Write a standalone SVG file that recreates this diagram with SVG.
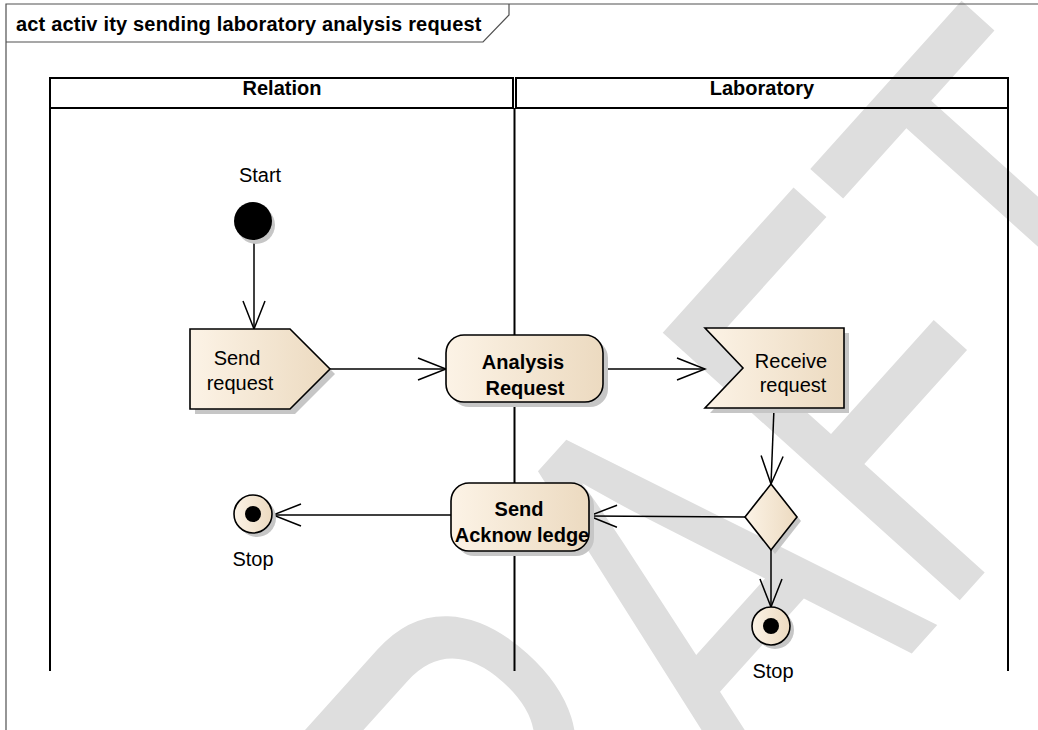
<svg xmlns="http://www.w3.org/2000/svg" width="1038" height="730" viewBox="0 0 1038 730">
<style>
.t{font-family:"Liberation Sans",Arial,sans-serif;font-size:20px;fill:#000}
.b{font-weight:bold}
.m{text-anchor:middle}
.frame{fill:none;stroke:#505050;stroke-width:1.2}
.lane{fill:none;stroke:#000;stroke-width:2}
.node{fill:url(#g);stroke:#000;stroke-width:1.6}
.sh{fill:#c6c6c6}
.edge{fill:none;stroke:#000;stroke-width:1.5;marker-end:url(#arr)}
.wm{font-family:"Liberation Sans",Arial,sans-serif;font-size:100px;fill:#dedede}
</style>
<defs>
<linearGradient id="g" x1="0" y1="0" x2="1" y2="0">
<stop offset="0" stop-color="#fcf3e6"/>
<stop offset="1" stop-color="#ecdac0"/>
</linearGradient>
<marker id="arr" markerUnits="userSpaceOnUse" markerWidth="32" markerHeight="26" viewBox="-2 -2 32 26" refX="28" refY="11" orient="auto">
<path d="M0,0 L28,11 L0,22" fill="none" stroke="#000" stroke-width="1.5"/>
</marker>
</defs>
<rect width="1038" height="730" fill="#fff"/>
<g id="watermark">
<text class="wm" transform="matrix(2.676,-2.972,4.317,3.887,372.8,1252)" x="0" y="0">DRAFT</text>
</g>
<g id="frame">
<path class="frame" d="M6,730 L6,4 L1038,4"/>
<path class="frame" d="M6,42 L483,42 L509,15 L509,4"/>
<text class="t b" x="16" y="31" style="letter-spacing:0.18px">act activ ity sending laboratory analysis request</text>
</g>
<g id="lanes">
<rect class="lane" x="50" y="78" width="463" height="30"/>
<rect class="lane" x="516" y="78" width="492" height="30"/>
<path class="lane" d="M50,108 L50,671 M514.5,108 L514.5,671 M1008,108 L1008,671"/>
<text class="t b m" x="282" y="95">Relation</text>
<text class="t b m" x="762" y="95">Laboratory</text>
</g>
<g id="connectors">
<path class="edge" d="M254,240 L254,329"/>
<path class="edge" d="M330,369 L446,369"/>
<path class="edge" d="M603,369 L705,369"/>
<path class="edge" d="M774,408 L771,484"/>
<path class="edge" d="M745,517 L589,516"/>
<path class="edge" d="M451,515 L273,515"/>
<path class="edge" d="M771,550 L771,607"/>
</g>
<g id="start">
<circle class="sh" cx="256" cy="225" r="19"/>
<circle cx="253" cy="221" r="19" fill="#000"/>
<text class="t m" x="260" y="182">Start</text>
</g>
<g id="send-request">
<polygon class="sh" points="195,334 295,334 335,374 295,414 195,414"/>
<polygon class="node" points="190,329 290,329 330,369 290,409 190,409"/>
<text class="t m" x="237" y="365">Send</text>
<text class="t m" x="240" y="390">request</text>
</g>
<g id="analysis-request">
<rect class="sh" x="451" y="340" width="157" height="67" rx="18"/>
<rect class="node" x="446" y="335" width="157" height="67" rx="18"/>
<text class="t b m" x="523" y="369">Analysis</text>
<text class="t b m" x="525" y="395">Request</text>
</g>
<g id="receive-request">
<polygon class="sh" points="710,333 849,333 849,413 710,413 748,373"/>
<polygon class="node" points="705,328 844,328 844,408 705,408 743,368"/>
<text class="t m" x="791" y="368">Receive</text>
<text class="t m" x="793" y="392">request</text>
</g>
<g id="decision">
<polygon class="sh" points="775,488 801,521 775,554 749,521"/>
<polygon class="node" points="771,484 797,517 771,550 745,517"/>
</g>
<g id="send-acknowledge">
<rect class="sh" x="456" y="488" width="138" height="68" rx="18"/>
<rect class="node" x="451" y="483" width="138" height="68" rx="18"/>
<text class="t b m" x="519" y="516">Send</text>
<text class="t b m" x="522" y="542">Acknow ledge</text>
</g>
<g id="stop-1">
<circle class="sh" cx="257" cy="518" r="19"/>
<circle class="node" cx="253" cy="514" r="19"/>
<circle cx="253" cy="514" r="8" fill="#000"/>
<text class="t m" x="253" y="566">Stop</text>
</g>
<g id="stop-2">
<circle class="sh" cx="775" cy="630" r="19"/>
<circle class="node" cx="771" cy="626" r="19"/>
<circle cx="771" cy="626" r="8" fill="#000"/>
<text class="t m" x="773" y="678">Stop</text>
</g>
</svg>
